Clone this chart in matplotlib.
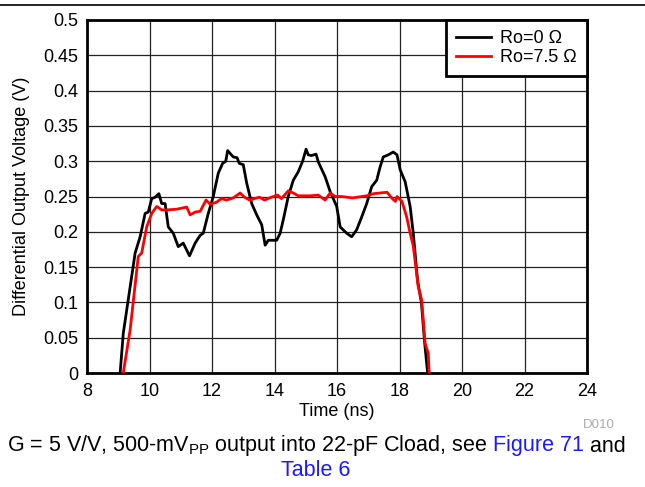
import matplotlib
matplotlib.use('Agg')
import matplotlib.pyplot as plt
from matplotlib.lines import Line2D

plt.rcParams['font.family'] = ['Liberation Sans', 'DejaVu Sans']
plt.rcParams['mathtext.fontset'] = 'custom'
plt.rcParams['mathtext.rm'] = 'Liberation Sans'
plt.rcParams['mathtext.it'] = 'Liberation Sans'

# Ro = 0 ohm trace
t_ro0 = [9.06, 9.16, 9.38, 9.54, 9.70, 9.86, 9.96, 10.07, 10.18, 10.30, 10.39, 10.50,
         10.60, 10.76, 10.92, 11.08, 11.28, 11.46, 11.62, 11.72, 11.88, 12.04, 12.20,
         12.34, 12.44, 12.50, 12.68, 12.80, 12.87, 13.00, 13.11, 13.27, 13.43, 13.59,
         13.70, 13.80, 14.07, 14.18, 14.28, 14.44, 14.60, 14.76, 14.90, 15.01, 15.08,
         15.18, 15.33, 15.40, 15.62, 15.78, 15.99, 16.10, 16.31, 16.47, 16.63, 16.79,
         16.95, 17.11, 17.27, 17.38, 17.48, 17.64, 17.80, 17.92, 18.02, 18.18, 18.34,
         18.44, 18.58, 18.70, 18.80, 18.90]
v_ro0 = [0.0, 0.056, 0.122, 0.170, 0.193, 0.226, 0.228, 0.247, 0.249, 0.254, 0.240, 0.240,
         0.207, 0.198, 0.179, 0.184, 0.166, 0.184, 0.195, 0.198, 0.226, 0.250, 0.283,
         0.297, 0.300, 0.315, 0.306, 0.305, 0.297, 0.295, 0.269, 0.240, 0.224, 0.210,
         0.181, 0.188, 0.188, 0.198, 0.217, 0.250, 0.273, 0.285, 0.300, 0.317, 0.309,
         0.308, 0.310, 0.299, 0.278, 0.257, 0.236, 0.207, 0.198, 0.193, 0.203, 0.221,
         0.240, 0.264, 0.273, 0.292, 0.306, 0.309, 0.313, 0.309, 0.288, 0.271, 0.236,
         0.198, 0.130, 0.100, 0.045, 0.0]

# Ro = 7.5 ohm trace
t_ro75 = [9.16, 9.38, 9.64, 9.75, 9.91, 10.07, 10.23, 10.39, 10.55, 10.87, 11.19, 11.30,
          11.46, 11.62, 11.81, 11.94, 12.15, 12.30, 12.46, 12.68, 12.90, 13.04, 13.20,
          13.52, 13.68, 13.90, 14.10, 14.22, 14.44, 14.60, 14.76, 15.14, 15.40, 15.62,
          15.78, 15.94, 16.15, 16.50, 16.95, 17.17, 17.60, 17.77, 17.87, 17.92, 18.08,
          18.23, 18.34, 18.44, 18.60, 18.71, 18.82, 18.92, 18.95]
v_ro75 = [0.0, 0.061, 0.165, 0.170, 0.207, 0.226, 0.236, 0.231, 0.231, 0.232, 0.235, 0.224,
          0.228, 0.229, 0.245, 0.239, 0.242, 0.247, 0.245, 0.248, 0.255, 0.249, 0.245,
          0.249, 0.245, 0.249, 0.252, 0.247, 0.258, 0.255, 0.251, 0.251, 0.252, 0.245,
          0.255, 0.250, 0.250, 0.248, 0.251, 0.254, 0.256, 0.247, 0.243, 0.250, 0.243,
          0.221, 0.198, 0.180, 0.122, 0.103, 0.042, 0.028, 0.0]

x_ticks = [8, 10, 12, 14, 16, 18, 20, 22, 24]
y_ticks = [0, 0.05, 0.1, 0.15, 0.2, 0.25, 0.3, 0.35, 0.4, 0.45, 0.5]
y_labels = ['0', '0.05', '0.1', '0.15', '0.2', '0.25', '0.3', '0.35', '0.4', '0.45', '0.5']

fig = plt.figure(figsize=(6.45, 4.87), dpi=100)
ax = fig.add_axes([0.1349, 0.234, 0.7752, 0.725])

ax.plot(t_ro0, v_ro0, color='black', lw=2, label='Ro=0 \u03a9', zorder=3)
ax.plot(t_ro75, v_ro75, color='#ff0000', lw=2, label='Ro=7.5 \u03a9', zorder=4)

ax.set_xlim(8, 24)
ax.set_ylim(0, 0.5)
ax.set_xticks(x_ticks)
ax.set_yticks(y_ticks)
ax.set_yticklabels(y_labels)
ax.tick_params(axis='y', length=0, labelsize=13, pad=6)
ax.tick_params(axis='x', length=0, labelsize=13, pad=7)
ax.grid(True, color='#222222', lw=0.9)
ax.set_axisbelow(True)
for s in ax.spines.values():
    s.set_linewidth(2)
ax.set_xlabel('Time (ns)', fontsize=13, labelpad=2)
ax.set_ylabel('Differential Output Voltage (V)', fontsize=13, labelpad=10)

leg = ax.legend(loc='upper right', fontsize=13, frameon=True, fancybox=False,
                borderaxespad=0, handlelength=1.9, borderpad=0.55, labelspacing=0.12,
                handletextpad=0.55)
leg.get_frame().set_edgecolor('black')
leg.get_frame().set_linewidth(2)
leg.get_frame().set_alpha(1)

fig.add_artist(Line2D([0, 1], [1 - 5 / 487, 1 - 5 / 487], color='black', lw=1.2))
fig.text(599 / 645, 1 - 425 / 487, 'D010', fontsize=9.5, color='#aaaaaa',
         ha='center', va='center')

# caption with coloured references, laid out piece by piece
cap_center = 316
cap_size = 15.5
pieces = [('G = 5 V/V, 500-mV$_{\\mathrm{PP}}$ output into 22-pF Cload, see', 'black'),
          (' Figure 71', '#1a1aff'), (' and', 'black')]
fig.canvas.draw()
r = fig.canvas.get_renderer()
widths = []
for txt, c in pieces:
    t = fig.text(0, 0, txt, fontsize=cap_size)
    widths.append(t.get_window_extent(r).width)
    t.remove()
x = cap_center - sum(widths) / 2
for (txt, c), w in zip(pieces, widths):
    fig.text(x / 645, 1 - 446 / 487, txt, fontsize=cap_size, color=c, va='center')
    x += w
fig.text(cap_center / 645, 1 - 470 / 487, 'Table 6', fontsize=cap_size, color='#1a1aff',
         ha='center', va='center')

fig.savefig('out.png', dpi=100)
